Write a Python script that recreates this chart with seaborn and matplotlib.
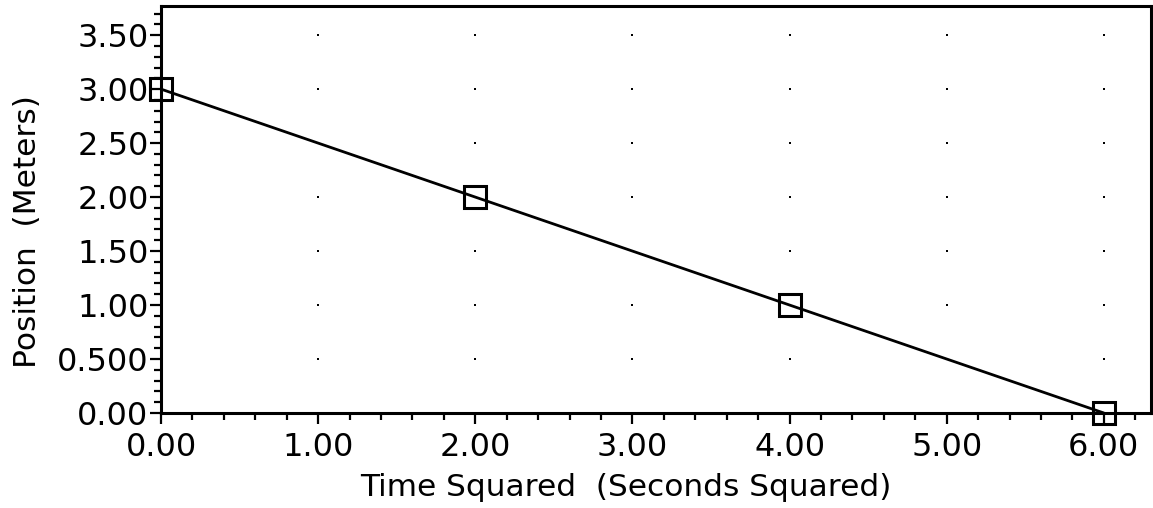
import matplotlib
matplotlib.use('Agg')
import matplotlib.pyplot as plt
import numpy as np
import pandas as pd
import seaborn as sns
from matplotlib.ticker import MultipleLocator

time_squared = [0.0, 2.0, 4.0, 6.0]
position = [3.0, 2.0, 1.0, 0.0]

x_ticks = [0.0, 1.0, 2.0, 3.0, 4.0, 5.0, 6.0]
x_tick_labels = ['0.00', '1.00', '2.00', '3.00', '4.00', '5.00', '6.00']
y_ticks = [0.0, 0.5, 1.0, 1.5, 2.0, 2.5, 3.0, 3.5]
y_tick_labels = ['0.00', '0.500', '1.00', '1.50', '2.00', '2.50', '3.00', '3.50']


def plot():
    sns.set_style('white')
    plt.rcParams['font.family'] = ['DejaVu Sans']
    fig = plt.figure(figsize=(11.53, 5.08), dpi=100)
    ax = fig.add_axes([161 / 1153, 1 - 413 / 508, (1151 - 161) / 1153, (413 - 6) / 508])

    df = pd.DataFrame({'t2': time_squared, 'pos': position})

    # dotted grid at major tick crossings
    gx, gy = np.meshgrid(x_ticks[1:], y_ticks[1:])
    ax.scatter(gx.ravel(), gy.ravel(), s=2.5, marker='s', color='black', linewidths=0, zorder=1)

    sns.lineplot(ax=ax, data=df, x='t2', y='pos', color='black', linewidth=2.0,
                 marker='s', markersize=15.5, markerfacecolor='none',
                 markeredgecolor='black', markeredgewidth=2.2, clip_on=False, zorder=3)

    ax.set_xlim(0, 6.30)
    ax.set_ylim(0, 3.77)
    ax.set_xticks(x_ticks)
    ax.set_xticklabels(x_tick_labels)
    ax.set_yticks(y_ticks)
    ax.set_yticklabels(y_tick_labels)
    ax.xaxis.set_minor_locator(MultipleLocator(0.2))
    ax.yaxis.set_minor_locator(MultipleLocator(0.1))
    ax.tick_params(which='major', direction='out', length=8, width=1.6, labelsize=23,
                   color='black', labelcolor='black', bottom=True, left=True)
    ax.tick_params(axis='x', which='major', pad=6)
    ax.tick_params(axis='y', which='major', pad=1)
    ax.tick_params(which='minor', direction='out', length=5, width=1.6,
                   color='black', bottom=True, left=True)

    for side in ['left', 'bottom', 'top', 'right']:
        ax.spines[side].set_color('black')
        ax.spines[side].set_linewidth(2.2)

    ax.set_xlabel('Time Squared  (Seconds Squared)', fontsize=22.5, color='black')
    ax.set_ylabel('Position  (Meters)', fontsize=22.5, color='black')
    ax.xaxis.set_label_coords(0.47, -0.148)
    ax.yaxis.set_label_coords(-0.12, 0.445)

    plt.savefig('out.png', dpi=100)


if __name__ == '__main__':
    plot()
